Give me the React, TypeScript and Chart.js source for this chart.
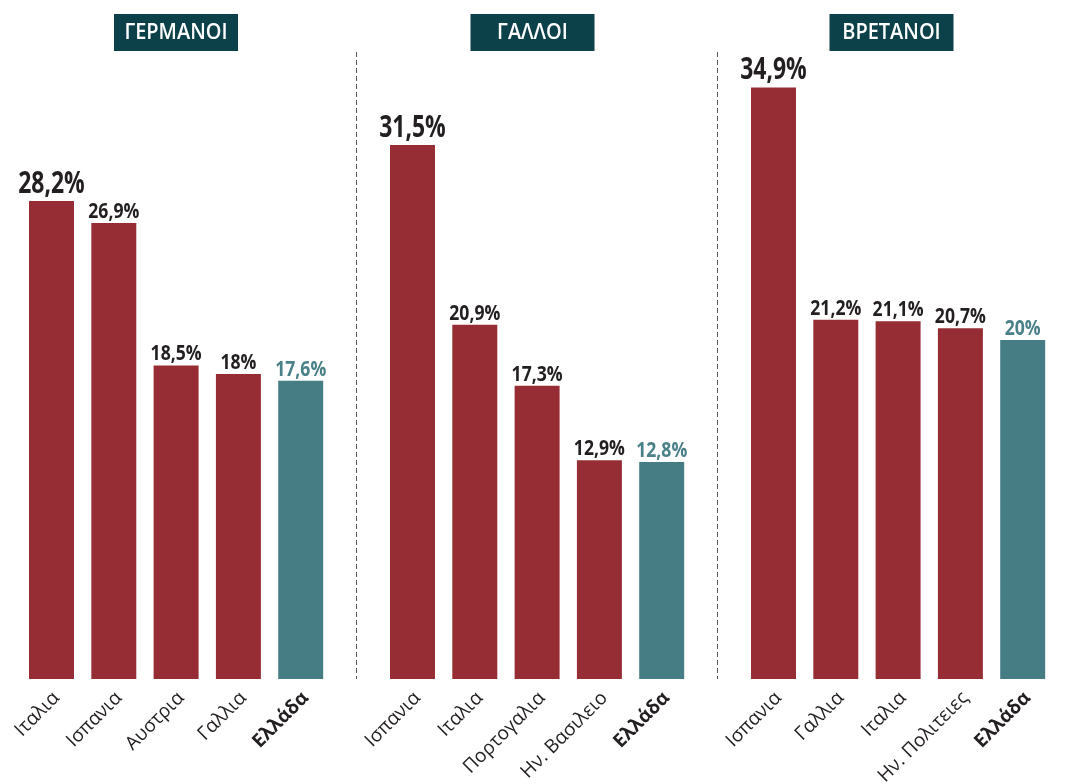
import React, { useEffect, useRef } from "react";
import { Chart, registerables } from "chart.js";

Chart.register(...registerables);

// ---------- DATA ----------
const panelTitles = ["ΓΕΡΜΑΝΟΙ", "ΓΑΛΛΟΙ", "ΒΡΕΤΑΝΟΙ"];

const germansCountries = ["Ιταλια", "Ισπανια", "Αυστρια", "Γαλλια", "Ελλάδα"];
const germansValues = [28.2, 26.9, 18.5, 18, 17.6];

const frenchCountries = ["Ισπανια", "Ιταλια", "Πορτογαλια", "Ην. Βασιλειο", "Ελλάδα"];
const frenchValues = [31.5, 20.9, 17.3, 12.9, 12.8];

const britishCountries = ["Ισπανια", "Γαλλια", "Ιταλια", "Ην. Πολιτειες", "Ελλάδα"];
const britishValues = [34.9, 21.2, 21.1, 20.7, 20];

const valueLabels = [
  ["28,2%", "26,9%", "18,5%", "18%", "17,6%"],
  ["31,5%", "20,9%", "17,3%", "12,9%", "12,8%"],
  ["34,9%", "21,2%", "21,1%", "20,7%", "20%"],
];

// ---------- STYLE / LAYOUT ----------
const W = 1070;
const H = 784;
const RED = "#962d34";
const TEAL = "#467c84";
const TEAL_TEXT = "#4a8189";
const TITLE_BG = "#0c4149";
const TEXT = "#231f20";
const panelLeft = [20.35, 381.35, 742.35];
const panelRight = [331.85, 692.85, 1053.85];
const titleCenters = [176, 532.5, 891.5];
const separatorsX = [356.5, 717.5];
const VALUE_FONT = '"Open Sans", "Noto Sans", sans-serif';
const TICK_FONT = '"Open Sans", "Noto Sans", sans-serif';

const panels = [
  { labels: germansCountries, values: germansValues },
  { labels: frenchCountries, values: frenchValues },
  { labels: britishCountries, values: britishValues },
];

function makePlugin(pi: number) {
  return {
    id: "decor" + pi,
    beforeDraw(chart: any) {
      const ctx = chart.ctx;
      ctx.save();
      // title box
      const cx = titleCenters[pi];
      ctx.fillStyle = TITLE_BG;
      ctx.fillRect(cx - 62, 14, 124, 37);
      ctx.fillStyle = "#ffffff";
      ctx.font = '600 21px "Open Sans", "Noto Sans", sans-serif';
      ctx.textAlign = "center";
      ctx.textBaseline = "middle";
      ctx.translate(cx, 33);
      ctx.scale(0.95, 1);
      ctx.fillText(panelTitles[pi], 0, 0);
      ctx.restore();
      // separators
      if (pi === 0) {
        ctx.save();
        ctx.strokeStyle = "#555555";
        ctx.lineWidth = 1;
        ctx.setLineDash([5, 3]);
        separatorsX.forEach((x) => {
          ctx.beginPath();
          ctx.moveTo(x, 52);
          ctx.lineTo(x, chart.chartArea.bottom);
          ctx.stroke();
        });
        ctx.restore();
      }
    },
    afterDatasetsDraw(chart: any) {
      const ctx = chart.ctx;
      const meta = chart.getDatasetMeta(0);
      meta.data.forEach((el: any, i: number) => {
        const big = i === 0;
        ctx.save();
        ctx.textAlign = "center";
        ctx.textBaseline = "alphabetic";
        ctx.font = `bold ${big ? 31 : 22}px ${VALUE_FONT}`;
        ctx.fillStyle = i === 4 ? TEAL_TEXT : TEXT;
        ctx.translate(el.x, el.y - (big ? 8 : 5));
        ctx.scale(big ? 0.74 : 0.8, 1);
        ctx.fillText(valueLabels[pi][i], 0, 0);
        ctx.restore();
      });
    },
  };
}

function Panel({ pi }: { pi: number }) {
  const ref = useRef<HTMLCanvasElement | null>(null);
  useEffect(() => {
    const p = panels[pi];
    const chart = new Chart(ref.current as HTMLCanvasElement, {
      type: "bar",
      data: {
        labels: p.labels,
        datasets: [
          {
            data: p.values,
            backgroundColor: p.values.map((_, i) => (i === 4 ? TEAL : RED)),
            barPercentage: 0.722,
            categoryPercentage: 1,
            borderWidth: 0,
          },
        ],
      },
      options: {
        animation: false,
        responsive: false,
        events: [],
        layout: {
          padding: { left: panelLeft[pi], right: W - panelRight[pi], top: 1, bottom: 0 },
        },
        plugins: { legend: { display: false }, tooltip: { enabled: false } },
        scales: {
          y: { display: false, min: 0, max: 40 },
          x: {
            grid: { display: false, drawTicks: false },
            border: { display: false },
            afterFit: (scale: any) => {
              scale.height = 105;
            },
            ticks: {
              autoSkip: false,
              minRotation: 45,
              maxRotation: 45,
              padding: 8,
              labelOffset: 5,
              color: TEXT,
              font: (c: any) =>
                c.index === 4
                  ? { family: TICK_FONT, size: 19, weight: "bold" }
                  : { family: TICK_FONT, size: 19, weight: "normal" },
            },
          },
        },
      },
      plugins: [makePlugin(pi)],
    } as any);
    return () => chart.destroy();
  }, [pi]);
  return (
    <canvas
      ref={ref}
      width={W}
      height={H}
      style={{ position: "absolute", left: 0, top: 0, width: W, height: H }}
    />
  );
}

export default function App() {
  return (
    <div style={{ position: "absolute", left: 0, top: 0, width: W, height: H, background: "#ffffff" }}>
      <Panel pi={0} />
      <Panel pi={1} />
      <Panel pi={2} />
    </div>
  );
}
